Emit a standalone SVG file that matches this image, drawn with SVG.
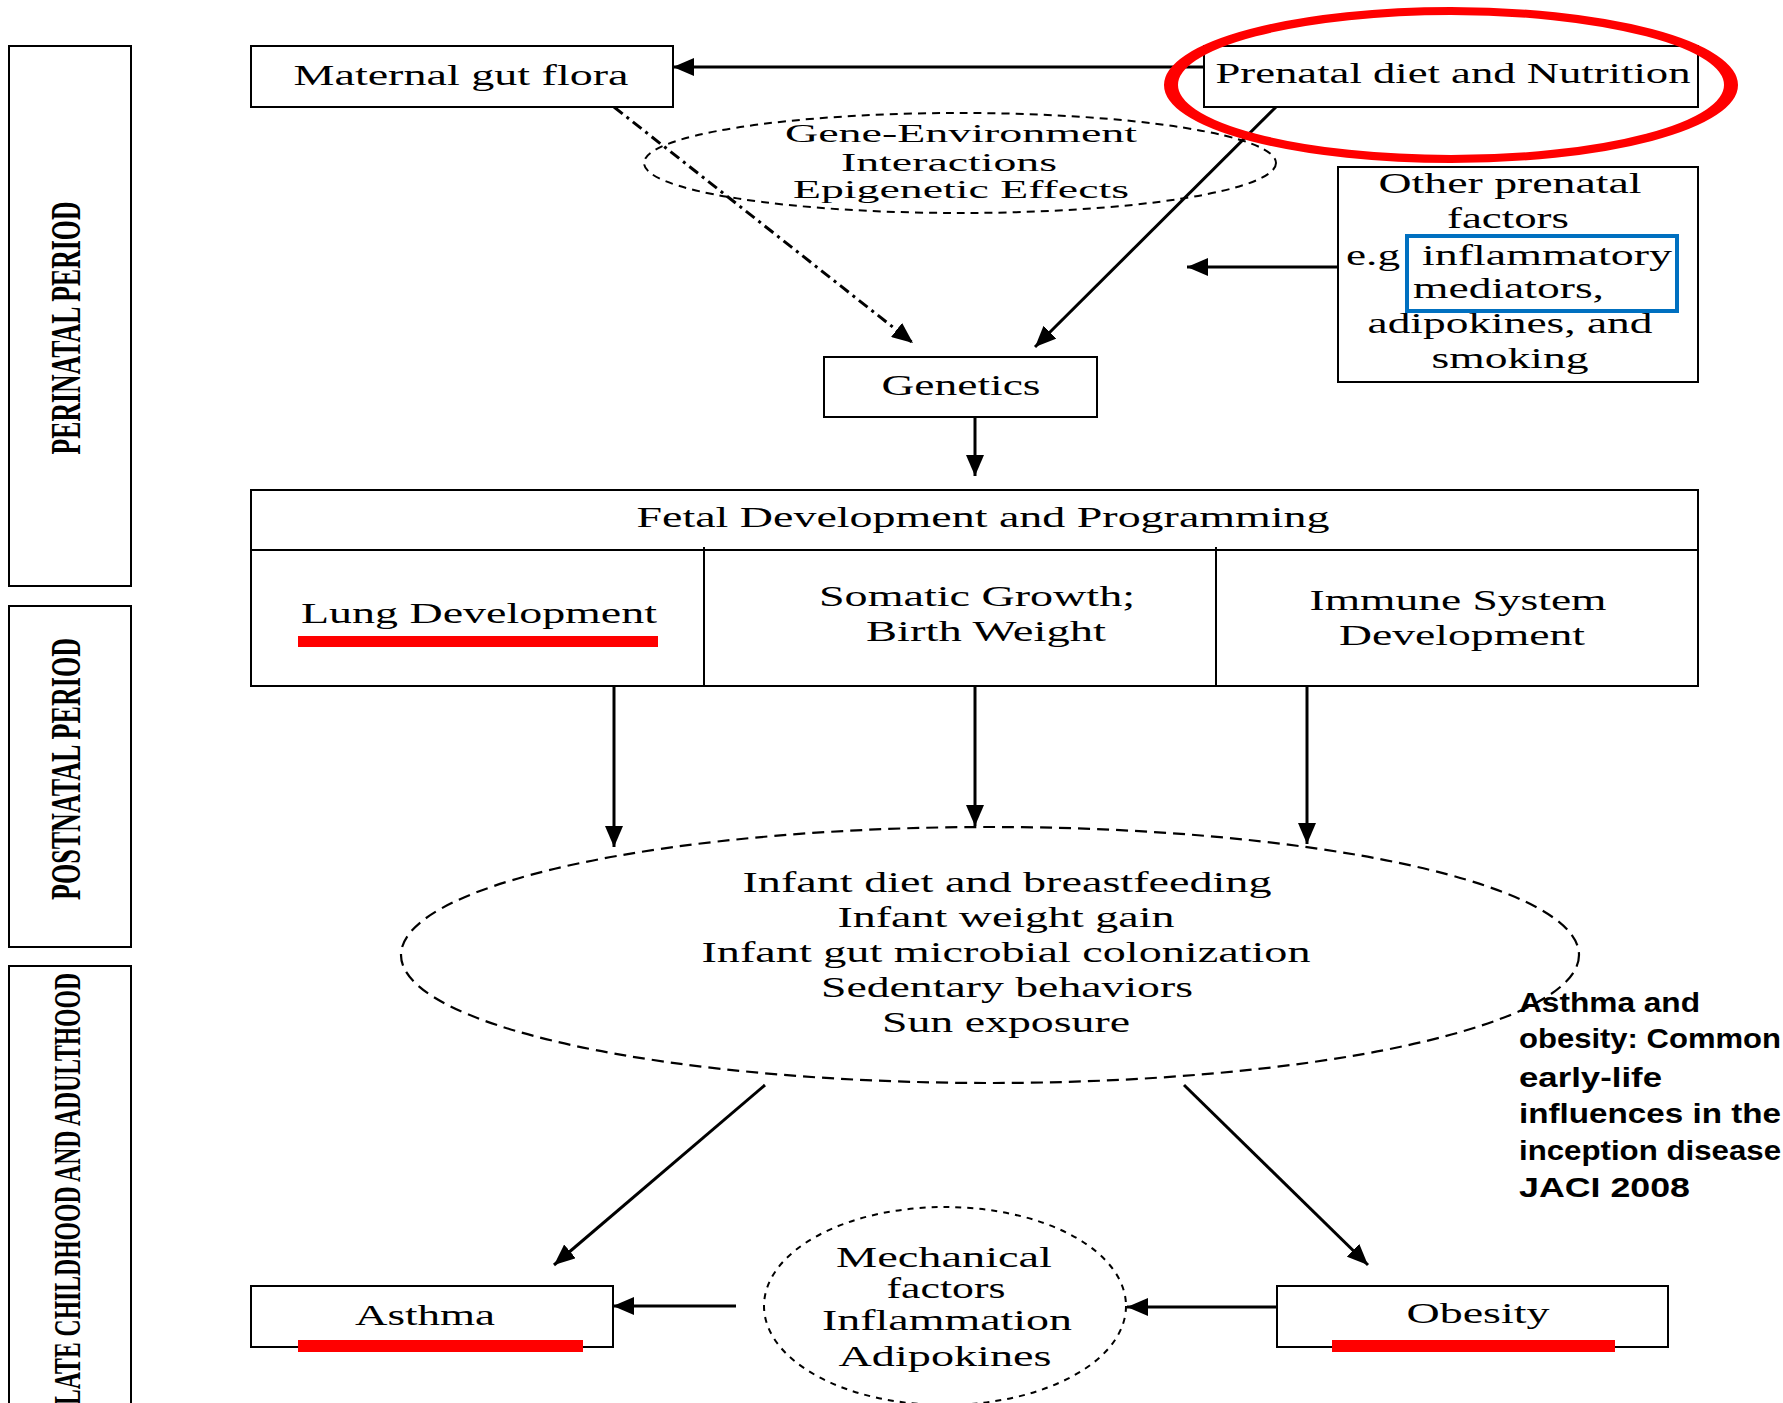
<svg xmlns="http://www.w3.org/2000/svg" width="1783" height="1403" viewBox="0 0 1783 1403">
<style>
.box{fill:#fff;stroke:#000;stroke-width:2}
.t{font-family:"Liberation Serif","Times New Roman",serif;font-size:29px;fill:#000;text-anchor:middle}
.ts{font-family:"Liberation Serif","Times New Roman",serif;font-size:29px;fill:#000}
.g{font-size:26px}
.per{font-family:"Liberation Serif","Times New Roman",serif;font-size:42px;font-weight:bold;fill:#000;text-anchor:middle}
.note{font-family:"Liberation Sans",Arial,sans-serif;font-size:28px;font-weight:bold;fill:#000}
.arr{stroke:#000;stroke-width:3;fill:none;marker-end:url(#ah)}
.red{fill:#ff0000}
</style>
<defs>
<marker id="ah" markerUnits="userSpaceOnUse" markerWidth="22" markerHeight="18" refX="21" refY="9" orient="auto">
<path d="M0,0 L21,9 L0,18 z" fill="#000"/>
</marker>
</defs>
<rect width="1783" height="1403" fill="#fff"/>

<g id="period-perinatal">
<rect class="box" x="9" y="46" width="122" height="540"/>
<text class="per" transform="translate(80,328) rotate(-90)" textLength="253" lengthAdjust="spacingAndGlyphs">PERINATAL PERIOD</text>
</g>
<g id="period-postnatal">
<rect class="box" x="9" y="606" width="122" height="341"/>
<text class="per" transform="translate(80,769) rotate(-90)" textLength="262" lengthAdjust="spacingAndGlyphs">POSTNATAL PERIOD</text>
</g>
<g id="period-late">
<rect class="box" x="9" y="966" width="122" height="460"/>
<text class="per" style="font-size:38px" transform="translate(80,1189) rotate(-90)" textLength="432" lengthAdjust="spacingAndGlyphs">LATE CHILDHOOD AND ADULTHOOD</text>
</g>

<g id="connectors">
<line class="arr" x1="1204" y1="67" x2="673" y2="67"/>
<line class="arr" x1="614" y1="107" x2="913" y2="343" style="stroke-dasharray:11,5,3,5"/>
<line class="arr" x1="1276" y1="107" x2="1035" y2="347"/>
<line class="arr" x1="1337" y1="267" x2="1187" y2="267"/>
<line class="arr" x1="975" y1="417" x2="975" y2="476"/>
<line class="arr" x1="614" y1="686" x2="614" y2="847"/>
<line class="arr" x1="975" y1="686" x2="975" y2="826"/>
<line class="arr" x1="1307" y1="686" x2="1307" y2="844"/>
<line class="arr" x1="765" y1="1085" x2="554" y2="1265"/>
<line class="arr" x1="1184" y1="1085" x2="1368" y2="1265"/>
<line class="arr" x1="736" y1="1306" x2="613" y2="1306"/>
<line class="arr" x1="1276" y1="1307" x2="1127" y2="1307"/>
</g>

<g id="maternal-gut-flora">
<rect class="box" x="251" y="46" width="422" height="61"/>
<text class="t" x="461" y="85" textLength="335" lengthAdjust="spacingAndGlyphs">Maternal gut flora</text>
</g>

<g id="prenatal-diet">
<rect class="box" x="1204" y="46" width="494" height="61"/>
<text class="t" x="1453" y="83" textLength="475" lengthAdjust="spacingAndGlyphs">Prenatal diet and Nutrition</text>
<ellipse cx="0" cy="0" rx="160" ry="74" transform="translate(1451,85) scale(1.75,1)" fill="none" stroke="#ff0000" stroke-width="8"/>
</g>

<g id="gene-environment">
<ellipse cx="960" cy="163" rx="316" ry="50" fill="none" stroke="#000" stroke-width="2" stroke-dasharray="8,6"/>
<text class="t g" x="961" y="142" textLength="352" lengthAdjust="spacingAndGlyphs">Gene-Environment</text>
<text class="t g" x="949" y="171" textLength="216" lengthAdjust="spacingAndGlyphs">Interactions</text>
<text class="t g" x="961" y="198" textLength="336" lengthAdjust="spacingAndGlyphs">Epigenetic Effects</text>
</g>

<g id="other-prenatal">
<rect class="box" x="1338" y="167" width="360" height="215"/>
<text class="t" x="1510" y="193" textLength="263" lengthAdjust="spacingAndGlyphs">Other prenatal</text>
<text class="t" x="1508" y="228" textLength="122" lengthAdjust="spacingAndGlyphs">factors</text>
<text class="ts" x="1346" y="265" textLength="54" lengthAdjust="spacingAndGlyphs">e.g</text>
<text class="ts" x="1422" y="265" textLength="250" lengthAdjust="spacingAndGlyphs">inflammatory</text>
<text class="ts" x="1413" y="298" textLength="191" lengthAdjust="spacingAndGlyphs">mediators,</text>
<text class="t" x="1510" y="333" textLength="285" lengthAdjust="spacingAndGlyphs">adipokines, and</text>
<text class="t" x="1510" y="368" textLength="157" lengthAdjust="spacingAndGlyphs">smoking</text>
<rect x="1407" y="236" width="270" height="75" fill="none" stroke="#0070c0" stroke-width="4"/>
</g>

<g id="genetics">
<rect class="box" x="824" y="357" width="273" height="60"/>
<text class="t" x="961" y="395" textLength="159" lengthAdjust="spacingAndGlyphs">Genetics</text>
</g>

<g id="fetal-development">
<rect class="box" x="251" y="490" width="1447" height="196"/>
<line x1="251" y1="550" x2="1698" y2="550" stroke="#000" stroke-width="2"/>
<line x1="704" y1="547" x2="704" y2="686" stroke="#000" stroke-width="2"/>
<line x1="1216" y1="547" x2="1216" y2="686" stroke="#000" stroke-width="2"/>
<text class="t" x="983" y="527" textLength="693" lengthAdjust="spacingAndGlyphs">Fetal Development and Programming</text>
<text class="t" x="479" y="623" textLength="356" lengthAdjust="spacingAndGlyphs">Lung Development</text>
<rect class="red" x="298" y="636" width="360" height="11"/>
<text class="t" x="977" y="606" textLength="316" lengthAdjust="spacingAndGlyphs">Somatic Growth;</text>
<text class="t" x="986" y="641" textLength="240" lengthAdjust="spacingAndGlyphs">Birth Weight</text>
<text class="t" x="1458" y="610" textLength="297" lengthAdjust="spacingAndGlyphs">Immune System</text>
<text class="t" x="1462" y="645" textLength="246" lengthAdjust="spacingAndGlyphs">Development</text>
</g>

<g id="infant-factors">
<ellipse cx="990" cy="955" rx="589" ry="128" fill="none" stroke="#000" stroke-width="2.2" stroke-dasharray="12,7"/>
<text class="t" x="1007" y="892" textLength="529" lengthAdjust="spacingAndGlyphs">Infant diet and breastfeeding</text>
<text class="t" x="1006" y="927" textLength="337" lengthAdjust="spacingAndGlyphs">Infant weight gain</text>
<text class="t" x="1006" y="962" textLength="609" lengthAdjust="spacingAndGlyphs">Infant gut microbial colonization</text>
<text class="t" x="1007" y="997" textLength="372" lengthAdjust="spacingAndGlyphs">Sedentary behaviors</text>
<text class="t" x="1006" y="1032" textLength="248" lengthAdjust="spacingAndGlyphs">Sun exposure</text>
</g>

<g id="asthma">
<rect class="box" x="251" y="1286" width="362" height="61"/>
<text class="t" x="425" y="1325" textLength="140" lengthAdjust="spacingAndGlyphs">Asthma</text>
<rect class="red" x="298" y="1340" width="285" height="12"/>
</g>

<g id="mechanical-factors">
<ellipse cx="945" cy="1306" rx="181" ry="99" fill="none" stroke="#000" stroke-width="2" stroke-dasharray="6,6"/>
<text class="t" x="944" y="1267" textLength="216" lengthAdjust="spacingAndGlyphs">Mechanical</text>
<text class="t" x="946" y="1298" textLength="119" lengthAdjust="spacingAndGlyphs">factors</text>
<text class="t" x="947" y="1330" textLength="250" lengthAdjust="spacingAndGlyphs">Inflammation</text>
<text class="t" x="945" y="1366" textLength="213" lengthAdjust="spacingAndGlyphs">Adipokines</text>
</g>

<g id="obesity">
<rect class="box" x="1277" y="1286" width="391" height="61"/>
<text class="t" x="1478" y="1323" textLength="143" lengthAdjust="spacingAndGlyphs">Obesity</text>
<rect class="red" x="1332" y="1340" width="283" height="12"/>
</g>

<g id="citation-note">
<text class="note" x="1519" y="1012" textLength="181" lengthAdjust="spacingAndGlyphs">Asthma and</text>
<text class="note" x="1519" y="1048" textLength="262" lengthAdjust="spacingAndGlyphs">obesity: Common</text>
<text class="note" x="1519" y="1087" textLength="143" lengthAdjust="spacingAndGlyphs">early-life</text>
<text class="note" x="1519" y="1123" textLength="262" lengthAdjust="spacingAndGlyphs">influences in the</text>
<text class="note" x="1519" y="1160" textLength="262" lengthAdjust="spacingAndGlyphs">inception disease</text>
<text class="note" x="1519" y="1197" textLength="171" lengthAdjust="spacingAndGlyphs">JACI 2008</text>
</g>
</svg>
